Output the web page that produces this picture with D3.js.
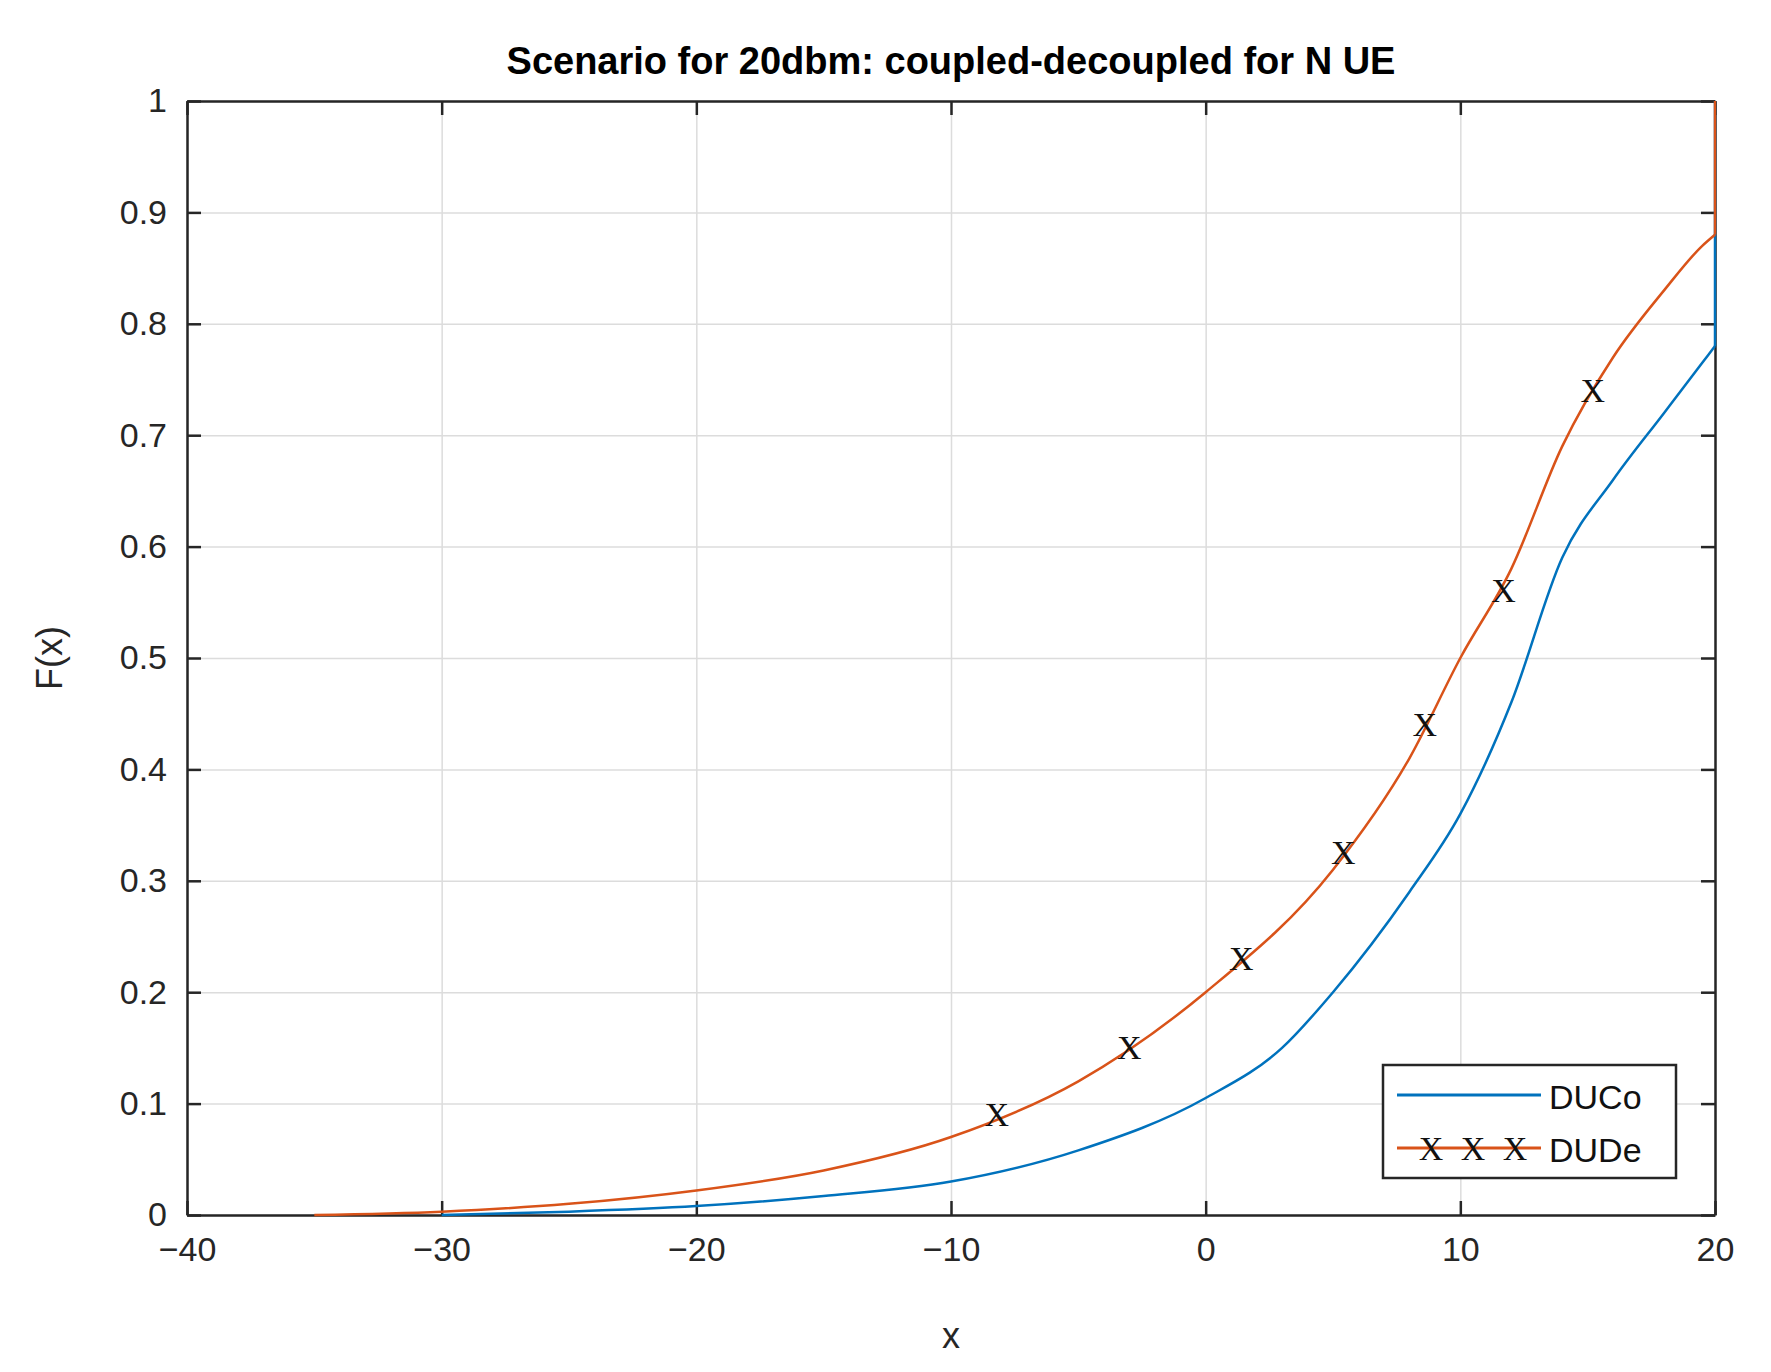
<!DOCTYPE html>
<html><head><meta charset="utf-8">
<script src="https://cdn.jsdelivr.net/npm/d3@7"></script>
<style>body{margin:0;background:#fff}</style>
</head><body>
<svg id="chart" width="1771" height="1372"></svg>
<script>
var xTicks = [-40, -30, -20, -10, 0, 10, 20];
var yTicks = [0, 0.1, 0.2, 0.3, 0.4, 0.5, 0.6, 0.7, 0.8, 0.9, 1];
var ducoX = [-30, -25, -20, -15, -10, -5, 0, 3, 5, 8, 10, 12, 14, 16, 18, 19.5, 20, 20];
var ducoY = [0, 0.003, 0.008, 0.017, 0.03, 0.058, 0.105, 0.15, 0.2, 0.29, 0.36, 0.46, 0.59, 0.66, 0.72, 0.765, 0.78, 1];
var dudeX = [-35, -30, -25, -20, -15, -10, -5, 0, 5, 8, 10, 12, 14, 16, 18, 19.5, 20, 20];
var dudeY = [0, 0.003, 0.01, 0.022, 0.04, 0.07, 0.12, 0.2, 0.31, 0.41, 0.5, 0.58, 0.69, 0.77, 0.83, 0.87, 0.88, 1];
var markX = [-8.2, -3, 1.4, 5.4, 8.6, 11.7, 15.2];
var markY = [0.09, 0.15, 0.23, 0.325, 0.44, 0.56, 0.74];

var L = 187, R = 1715, T = 101, B = 1215;
var svg = d3.select('#chart');
var x = d3.scaleLinear().domain([-40, 20]).range([L, R]);
var y = d3.scaleLinear().domain([0, 1]).range([B, T]);
var font = 'Liberation Sans, Arial, sans-serif';

// grid
svg.append('g').attr('transform', 'translate(0,' + B + ')')
	.call(d3.axisBottom(x).tickValues(xTicks).tickSize(-(B - T)).tickFormat(''))
	.call(function(g) { g.select('.domain').remove(); g.selectAll('line').attr('stroke', '#dcdcdc').attr('stroke-width', 1.5); });
svg.append('g').attr('transform', 'translate(' + L + ',0)')
	.call(d3.axisLeft(y).tickValues(yTicks).tickSize(-(R - L)).tickFormat(''))
	.call(function(g) { g.select('.domain').remove(); g.selectAll('line').attr('stroke', '#dcdcdc').attr('stroke-width', 1.5); });

// axes
function styleAxis(g) {
	g.select('.domain').attr('stroke', '#262626').attr('stroke-width', 2.5);
	g.selectAll('line').attr('stroke', '#262626').attr('stroke-width', 2.5);
	g.selectAll('text').attr('font-family', font).attr('font-size', 34).attr('fill', '#262626');
}
svg.append('g').attr('transform', 'translate(0,' + B + ')')
	.call(d3.axisBottom(x).tickValues(xTicks).tickSize(-14).tickSizeOuter(0).tickPadding(22).tickFormat(function(d) { return d < 0 ? '\u2212' + (-d) : d; }))
	.call(styleAxis);
svg.append('g').attr('transform', 'translate(0,' + T + ')')
	.call(d3.axisTop(x).tickValues(xTicks).tickSize(-14).tickSizeOuter(0).tickFormat(''))
	.call(styleAxis);
svg.append('g').attr('transform', 'translate(' + L + ',0)')
	.call(d3.axisLeft(y).tickValues(yTicks).tickSize(-14).tickSizeOuter(0).tickPadding(20).tickFormat(function(d) { return d; }))
	.call(styleAxis);
svg.append('g').attr('transform', 'translate(' + R + ',0)')
	.call(d3.axisRight(y).tickValues(yTicks).tickSize(-14).tickSizeOuter(0).tickFormat(''))
	.call(styleAxis);

var line = d3.line().x(function(d) { return x(d[0]); }).y(function(d) { return y(d[1]); }).curve(d3.curveMonotoneX);
var lineLin = d3.line().x(function(d) { return x(d[0]); }).y(function(d) { return y(d[1]); });
function draw(xs, ys, color) {
	var pts = d3.zip(xs, ys);
	var smooth = pts.slice(0, pts.length - 1);
	svg.append('path').attr('d', line(smooth)).attr('fill', 'none').attr('stroke', color).attr('stroke-width', 2.5);
	svg.append('path').attr('d', lineLin(pts.slice(pts.length - 2))).attr('fill', 'none').attr('stroke', color).attr('stroke-width', 2.5);
}
draw(ducoX, ducoY, '#0072BD');
draw(dudeX, dudeY, '#D95319');

svg.selectAll('text.mk').data(d3.zip(markX, markY)).enter().append('text')
	.attr('x', function(d) { return x(d[0]); }).attr('y', function(d) { return y(d[1]) + 11; })
	.attr('text-anchor', 'middle').attr('font-family', 'Liberation Serif, serif').attr('font-size', 34)
	.attr('fill', '#111').text('X');

// title and labels
svg.append('text').attr('x', (L + R) / 2).attr('y', 74).attr('text-anchor', 'middle')
	.attr('font-family', font).attr('font-weight', 'bold').attr('font-size', 38).attr('fill', '#000')
	.text('Scenario for 20dbm: coupled-decoupled for N UE');
svg.append('text').attr('x', (L + R) / 2).attr('y', 1348).attr('text-anchor', 'middle')
	.attr('font-family', font).attr('font-size', 36).attr('fill', '#262626').text('x');
svg.append('text').attr('transform', 'translate(62,' + ((T + B) / 2) + ') rotate(-90)').attr('text-anchor', 'middle')
	.attr('font-family', font).attr('font-size', 36).attr('fill', '#262626').text('F(x)');

// legend
var lg = svg.append('g').attr('transform', 'translate(1383,1065)');
lg.append('rect').attr('width', 293).attr('height', 113).attr('fill', '#fff').attr('stroke', '#262626').attr('stroke-width', 2.5);
lg.append('line').attr('x1', 14).attr('x2', 158).attr('y1', 30).attr('y2', 30).attr('stroke', '#0072BD').attr('stroke-width', 3);
lg.append('line').attr('x1', 14).attr('x2', 158).attr('y1', 83).attr('y2', 83).attr('stroke', '#D95319').attr('stroke-width', 3);
[48, 90, 132].forEach(function(px) {
	lg.append('text').attr('x', px).attr('y', 95).attr('text-anchor', 'middle').attr('font-family', 'Liberation Serif, serif')
		.attr('font-size', 34).attr('fill', '#111').text('X');
});
lg.append('text').attr('x', 166).attr('y', 44).attr('font-family', font).attr('font-size', 34).attr('fill', '#111').text('DUCo');
lg.append('text').attr('x', 166).attr('y', 97).attr('font-family', font).attr('font-size', 34).attr('fill', '#111').text('DUDe');
</script>
</body></html>
